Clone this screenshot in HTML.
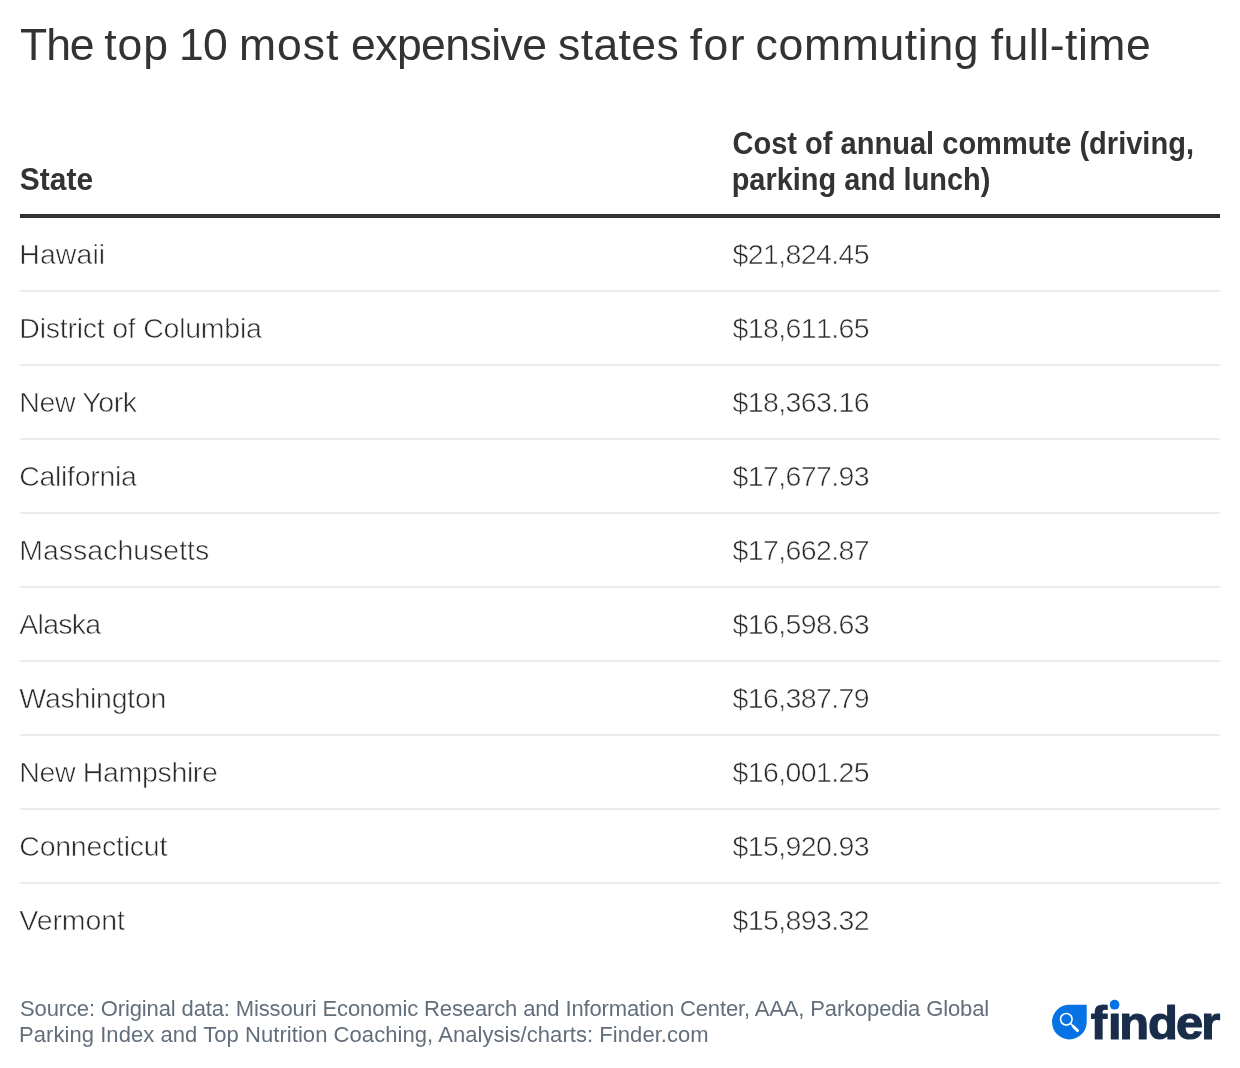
<!DOCTYPE html>
<html lang="en">
<head>
<meta charset="utf-8">
<title>The top 10 most expensive states for commuting full-time</title>
<style>
  html,body{margin:0;padding:0;background:#fff;}
  body{width:1240px;height:1068px;position:relative;overflow:hidden;
       font-family:"Liberation Sans",Arial,sans-serif;color:#333;will-change:transform;}
  h1{position:absolute;left:21px;top:19px;margin:0;font-weight:400;font-size:44.5px;line-height:52px;
     white-space:nowrap;color:#333;}
  h1 span{display:inline-block;}
  table{position:absolute;left:20px;top:118px;width:1200px;border-collapse:collapse;table-layout:fixed;}
  col.c1{width:713px;} col.c2{width:487px;}
  th{font-weight:700;font-size:30.8px;line-height:36px;text-align:left;vertical-align:bottom;
     padding:0 0 16px 0;height:80px;border-bottom:4px solid #333;white-space:nowrap;}
  th span{display:inline-block;transform-origin:0 100%;vertical-align:bottom;}
  th .s0{transform:scaleX(0.973) translateX(-0.2px);margin-left:0;}
  th .l1{transform:scaleX(0.9432) translateX(-0.6px);}
  th .l2{transform:scaleX(0.939) translateX(-1.4px);}
  td{font-size:28.5px;line-height:36px;padding:0;height:72px;border-bottom:2px solid #ebebeb;
     vertical-align:middle;white-space:nowrap;color:#2a2a2a;-webkit-text-stroke:0.6px #fff;}
  td.v{letter-spacing:-0.62px;text-indent:-0.4px;font-kerning:none;}
  td:first-child{text-indent:-0.7px;}
  tr:last-child td{border-bottom:none;}
  .foot{position:absolute;left:20px;top:996.4px;font-size:22px;line-height:26px;color:#636e7b;white-space:nowrap;}
  .foot .a{letter-spacing:-0.135px;} .foot .b{letter-spacing:0.06px;margin-left:-1px;}
  .logo{position:absolute;left:1040px;top:990px;width:200px;height:60px;}
</style>
</head>
<body>
<h1><span style="letter-spacing:-1.056px;margin-left:-1.000px">The</span> <span style="letter-spacing:0.914px;margin-left:-1.653px">top</span> <span style="letter-spacing:-0.719px;margin-left:-2.196px">10</span> <span style="letter-spacing:0.980px;margin-left:-0.517px">most</span> <span style="letter-spacing:-0.564px;margin-left:-0.686px">expensive</span> <span style="letter-spacing:0.386px;margin-left:-0.689px">states</span> <span style="letter-spacing:1.359px;margin-left:-1.617px">for</span> <span style="letter-spacing:0.682px;margin-left:-2.722px">commuting</span> <span style="letter-spacing:0.529px;margin-left:-1.011px">full-time</span></h1>
<table>
  <colgroup><col class="c1"><col class="c2"></colgroup>
  <thead>
    <tr><th><span class="s0">State</span></th><th><span class="l1">Cost of annual commute (driving,</span><br><span class="l2">parking and lunch)</span></th></tr>
  </thead>
  <tbody>
    <tr><td style="letter-spacing:0.055px">Hawaii</td><td class="v">$21,824.45</td></tr>
    <tr><td style="letter-spacing:-0.235px">District of Columbia</td><td class="v">$18,611.65</td></tr>
    <tr><td style="letter-spacing:-0.386px">New York</td><td class="v">$18,363.16</td></tr>
    <tr><td style="letter-spacing:-0.322px">California</td><td class="v">$17,677.93</td></tr>
    <tr><td style="letter-spacing:-0.016px">Massachusetts</td><td class="v">$17,662.87</td></tr>
    <tr><td style="letter-spacing:-0.729px">Alaska</td><td class="v">$16,598.63</td></tr>
    <tr><td style="letter-spacing:-0.265px">Washington</td><td class="v">$16,387.79</td></tr>
    <tr><td style="letter-spacing:-0.348px">New Hampshire</td><td class="v">$16,001.25</td></tr>
    <tr><td style="letter-spacing:-0.249px">Connecticut</td><td class="v">$15,920.93</td></tr>
    <tr><td style="letter-spacing:-0.105px">Vermont</td><td class="v">$15,893.32</td></tr>
  </tbody>
</table>
<div class="foot"><span class="a">Source: Original data: Missouri Economic Research and Information Center, AAA, Parkopedia Global</span><br><span class="b">Parking Index and Top Nutrition Coaching, Analysis/charts: Finder.com</span></div>
<svg class="logo" viewBox="0 0 200 60">
  <path d="M29.35 14.7 H46.7 V32.05 A17.35 17.35 0 1 1 29.35 14.7 Z" fill="#0673e4"/>
  <circle cx="26.3" cy="29.25" r="5.75" fill="none" stroke="#fff" stroke-width="1.6"/>
  <line x1="30.6" y1="33.6" x2="33.5" y2="36.6" stroke="#fff" stroke-width="1.5"/>
  <line x1="33.3" y1="36.5" x2="37.5" y2="40.5" stroke="#fff" stroke-width="3.1" stroke-linecap="round"/>
  <text transform="scale(1.04,1)" x="48.74 65.35 76.29 103.86 130.83 155.04" y="48.7" font-family="Liberation Sans, Arial, sans-serif" font-weight="700" font-size="47" fill="#192d4b" stroke="#192d4b" stroke-width="1.2" stroke-linejoin="round">finder</text>
  <rect x="69.8" y="12.5" width="9.6" height="10.4" fill="#fff"/>
  <circle cx="74.6" cy="14.7" r="4.85" fill="#0673e4"/>
</svg>
</body>
</html>
